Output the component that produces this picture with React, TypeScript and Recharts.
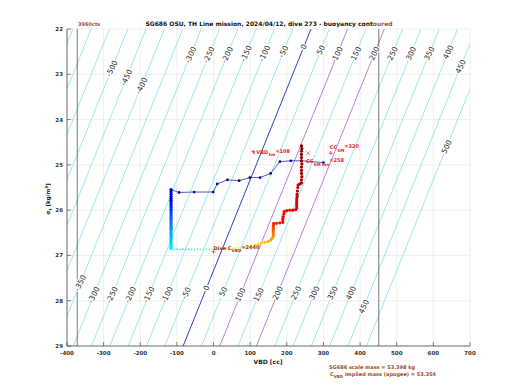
import React from 'react';
import { ComposedChart, XAxis, YAxis, CartesianGrid, ReferenceLine, Scatter, Line } from 'recharts';

const vbdTicks = [-400, -300, -200, -100, 0, 100, 200, 300, 400, 500, 600, 700];
const sigmaTicks = [22, 23, 24, 25, 26, 27, 28, 29];

// zero buoyancy contour, read at the top and bottom of the plot
const zeroContourTop = { sigma: 22, vbd: 266 };
const zeroContourBottom = { sigma: 29, vbd: -83 };
const cyanLevels = [-650, -600, -550, -500, -450, -400, -350, -300, -250, -200, -150, -100, -50, 50, 150, 250, 300, 350, 400, 450, 500];
const blueLevels = [0];
const purpleLevels = [100, 200];
const vbdLimits = [-372, 451];

const labelLevels = [-500, -450, -400, -300, -250, -200, -150, -100, -50, 0, 50, 100, 150, 200, 250, 300, 350, 400, 450, 500,
  -350, -300, -250, -200, -150, -100, -50, 0, 50, 100, 150, 200, 250, 300, 350, 400, 450];
const labelSigmas = [22.87, 23.07, 23.25, 22.57, 22.57, 22.57, 22.54, 22.54, 22.5, 22.39, 22.46, 22.54, 22.54, 22.54, 22.54, 22.54, 22.54, 22.51, 22.83, 24.6,
  27.61, 27.87, 27.87, 27.87, 27.87, 27.87, 27.83, 27.72, 27.8, 27.87, 27.87, 27.83, 27.83, 27.83, 27.83, 27.83, 28.13];

// dive data [VBD cc, sigma_t]
const descent = [
  [-116, 25.55], [-116, 25.6], [-116, 25.65], [-116, 25.7], [-116, 25.74], [-116, 25.78], [-116, 25.82], [-116, 25.86],
  [-116, 25.9], [-116, 25.94], [-116, 25.98], [-116, 26.02], [-116, 26.06], [-116, 26.1], [-116, 26.14], [-116, 26.18],
  [-116, 26.22], [-116, 26.26], [-116, 26.3], [-116, 26.34], [-116, 26.38], [-116, 26.42], [-116, 26.46], [-116, 26.5],
  [-116, 26.54], [-116, 26.58], [-116, 26.62], [-116, 26.66], [-116, 26.7], [-116, 26.74], [-116, 26.78], [-116, 26.82], [-116, 26.85],
];
const apogee = [
  [-108, 26.87], [-100, 26.86], [-92, 26.87], [-84, 26.86], [-76, 26.87], [-68, 26.86], [-60, 26.87], [-52, 26.87],
  [-44, 26.86], [-36, 26.87], [-28, 26.87], [-20, 26.86], [-12, 26.87], [-4, 26.87], [4, 26.86], [12, 26.87], [20, 26.86],
  [28, 26.86], [36, 26.85], [44, 26.85], [52, 26.84], [60, 26.84], [68, 26.83], [76, 26.83], [84, 26.82], [92, 26.81],
];
const climbLower = [
  [100, 26.8], [113, 26.77], [122, 26.75], [131, 26.72], [140, 26.71], [149, 26.69], [156, 26.66], [160, 26.62],
  [163, 26.57], [163, 26.52], [163, 26.47], [163, 26.42], [163, 26.38], [164, 26.33], [164, 26.29],
];
const climbUpper = [
  [172, 26.29], [181, 26.28], [189, 26.27], [189, 26.22], [189, 26.18], [190, 26.14], [192, 26.08], [193, 26.03],
  [200, 26.01], [208, 26.0], [216, 26.0], [224, 25.99], [227, 25.95], [227, 25.9], [227, 25.85], [227, 25.8],
  [227, 25.75], [228, 25.7], [228, 25.65], [229, 25.58], [230, 25.5], [231, 25.44], [236, 25.42], [240, 25.4],
  [240, 25.33], [241, 25.26], [240, 25.19], [240, 25.12], [240, 25.05], [241, 24.98], [240, 24.91], [240, 24.84],
  [240, 24.77], [240, 24.7], [241, 24.64], [240, 24.58],
];
const apogeeTrace = [
  [-116, 25.55], [-94, 25.61], [-53, 25.6], [-1, 25.6], [10, 25.42], [38, 25.33], [70, 25.35], [99, 25.28],
  [127, 25.28], [156, 25.19], [181, 24.93], [211, 24.91], [240, 24.91], [300, 24.95],
];

const plusMarks = [[108, 24.71], [320, 24.74], [0, 26.92]];
const crossMarks = [[258, 24.74]];
const annotations = [
  { x: 108, y: 24.71, main: '\u2193VBD', sub: '1m', tail: '=108' },
  { x: 320, y: 24.74, main: 'CC', sub: 'SM', tail: '=320' },
  { x: 258, y: 24.74, main: 'CC', sub: 'SM mn', tail: '=258' },
  { x: 0, y: 26.92, main: 'Dive C', sub: 'VBD', tail: '=2440' },
];
const annotationStyle = [
  { dx: -1, dy: 2, color: '#e8202a' },
  { dx: -1, dy: -4, color: '#e8202a' },
  { dx: -2, dy: 10, color: '#e8202a' },
  { dx: 0, dy: -2, color: '#a0301e' },
];

const FONT = 'DejaVu Sans';

const contourSegment = (level: number) => [
  { x: zeroContourBottom.vbd + level, y: zeroContourBottom.sigma },
  { x: zeroContourTop.vbd + level, y: zeroContourTop.sigma },
];
const contourVbdAt = (level: number, sigma: number) =>
  zeroContourBottom.vbd + level +
  ((zeroContourTop.vbd - zeroContourBottom.vbd) * (zeroContourBottom.sigma - sigma)) / (zeroContourBottom.sigma - zeroContourTop.sigma);

const labelData = labelLevels.map((lv, i) => ({ x: contourVbdAt(lv, labelSigmas[i]), y: labelSigmas[i], label: String(lv) }));

const segments = [descent, apogee, climbLower, climbUpper];
const diveData = segments.flat().map(([x, y], i) => ({ x, y, i }));
const bounds: number[] = [0];
segments.forEach((s) => bounds.push(bounds[bounds.length - 1] + s.length));
bounds[bounds.length - 1] -= 1;
const tStops = [0.08, 0.37, 0.62, 0.86, 1.0];

const clamp = (v: number) => Math.max(0, Math.min(1, v));
const jet = (t: number) => {
  const r = clamp(1.5 - Math.abs(4 * t - 3));
  const g = clamp(1.5 - Math.abs(4 * t - 2));
  const b = clamp(1.5 - Math.abs(4 * t - 1));
  return `rgb(${Math.round(r * 255)},${Math.round(g * 255)},${Math.round(b * 255)})`;
};
const tForIndex = (i: number) => {
  for (let k = 0; k < bounds.length - 1; k++) {
    if (i <= bounds[k + 1]) {
      const f = (i - bounds[k]) / Math.max(1, bounds[k + 1] - bounds[k]);
      return tStops[k] + f * (tStops[k + 1] - tStops[k]);
    }
  }
  return 1;
};

const traceData = apogeeTrace.map(([x, y]) => ({ x, y }));
const plusData = plusMarks.map(([x, y]) => ({ x, y }));
const crossData = crossMarks.map(([x, y]) => ({ x, y }));
const annotationData = annotations.map((a, i) => ({ ...a, i }));

const DiveDot = (p: any) => {
  const isApogee = p.payload.i >= bounds[1] && p.payload.i < bounds[2];
  return <circle cx={p.cx} cy={p.cy} r={isApogee ? 0.9 : 1.6} fill={jet(tForIndex(p.payload.i))} />;
};

const ContourLabel = (p: any) => (
  <text
    x={p.cx} y={p.cy} transform={`rotate(-64 ${p.cx} ${p.cy})`} textAnchor="middle" dominantBaseline="central"
    fontSize={7.5} fontFamily={FONT} fill="#2a2a2a" stroke="#fff" strokeWidth={2.4} paintOrder="stroke"
  >
    {p.payload.label}
  </text>
);

const PlusMark = (p: any) => (
  <g stroke="#e8202a" strokeWidth={0.7}>
    <line x1={p.cx - 2} x2={p.cx + 2} y1={p.cy} y2={p.cy} />
    <line x1={p.cx} x2={p.cx} y1={p.cy - 2} y2={p.cy + 2} />
  </g>
);
const CrossMark = (p: any) => (
  <g stroke="#e8202a" strokeWidth={0.6}>
    <line x1={p.cx - 1.8} x2={p.cx + 1.8} y1={p.cy - 1.8} y2={p.cy + 1.8} />
    <line x1={p.cx - 1.8} x2={p.cx + 1.8} y1={p.cy + 1.8} y2={p.cy - 1.8} />
  </g>
);
const AnnotationText = (p: any) => {
  const s = annotationStyle[p.payload.i];
  return (
    <text x={p.cx + s.dx} y={p.cy + s.dy} fontSize={5} fontWeight="bold" fontFamily={FONT} fill={s.color}>
      <tspan>{p.payload.main}</tspan>
      <tspan dy={2.6} fontSize={4.2}>{p.payload.sub}</tspan>
      <tspan dy={-3.4}>{p.payload.tail}</tspan>
    </text>
  );
};

const tickText = { fontSize: 5.5, fontFamily: FONT, fontWeight: 'bold' as const, fill: '#333' };
const BottomTick = (p: any) => (
  <g>
    <line x1={p.x} x2={p.x} y1={p.y} y2={p.y - 4} stroke="#333" strokeWidth={0.6} />
    <text x={p.x} y={p.y + 9} textAnchor="middle" {...tickText}>{p.payload.value}</text>
  </g>
);
const TopTick = (p: any) => <line x1={p.x} x2={p.x} y1={p.y} y2={p.y + 4} stroke="#333" strokeWidth={0.6} />;
const LeftTick = (p: any) => (
  <g>
    <line x1={p.x} x2={p.x + 4} y1={p.y} y2={p.y} stroke="#333" strokeWidth={0.6} />
    <text x={p.x - 4} y={p.y + 2} textAnchor="end" {...tickText}>{p.payload.value}</text>
  </g>
);
const RightTick = (p: any) => <line x1={p.x} x2={p.x - 4} y1={p.y} y2={p.y} stroke="#333" strokeWidth={0.6} />;

export default function App() {
  return (
    <div style={{ position: 'absolute', left: 0, top: 0, width: 520, height: 390, background: '#fff' }}>
      <ComposedChart width={520} height={390} margin={{ top: 29, right: 50, bottom: 14, left: 27 }}>
        <CartesianGrid stroke="#e6e6e6" strokeWidth={0.6} />
        <XAxis
          type="number" dataKey="x" domain={[-400, 700]} ticks={vbdTicks} allowDataOverflow interval={0}
          height={30} tickSize={0} tickMargin={0} tickLine={false} tick={<BottomTick />} axisLine={{ stroke: '#333', strokeWidth: 0.7 }}
        />
        <XAxis
          xAxisId="top" orientation="top" type="number" domain={[-400, 700]} ticks={vbdTicks} interval={0}
          height={0} tickSize={0} tickMargin={0} tickLine={false} tick={<TopTick />} axisLine={{ stroke: '#333', strokeWidth: 0.7 }}
        />
        <YAxis
          type="number" dataKey="y" domain={[22, 29]} reversed ticks={sigmaTicks} allowDataOverflow interval={0}
          width={40} tickSize={0} tickMargin={0} tickLine={false} tick={<LeftTick />} axisLine={{ stroke: '#333', strokeWidth: 0.7 }}
        />
        <YAxis
          yAxisId="right" orientation="right" type="number" domain={[22, 29]} reversed ticks={sigmaTicks} interval={0}
          width={0} tickSize={0} tickMargin={0} tickLine={false} tick={<RightTick />} axisLine={{ stroke: '#333', strokeWidth: 0.7 }}
        />
        {cyanLevels.map((lv) => (
          <ReferenceLine key={`c${lv}`} segment={contourSegment(lv)} ifOverflow="hidden" stroke="#62e4e6" strokeWidth={0.7} />
        ))}
        {purpleLevels.map((lv) => (
          <ReferenceLine key={`p${lv}`} segment={contourSegment(lv)} ifOverflow="hidden" stroke="#9d48d0" strokeWidth={0.7} />
        ))}
        {blueLevels.map((lv) => (
          <ReferenceLine key={`b${lv}`} segment={contourSegment(lv)} ifOverflow="hidden" stroke="#1428c8" strokeWidth={0.9} />
        ))}
        {vbdLimits.map((v) => (
          <ReferenceLine key={`v${v}`} x={v} stroke="#555" strokeWidth={0.8} />
        ))}
        <Scatter data={labelData} shape={<ContourLabel />} isAnimationActive={false} />
        <Line
          data={traceData} dataKey="y" stroke="#12128a" strokeWidth={0.7} isAnimationActive={false}
          dot={{ r: 1.4, fill: '#0a0a96', stroke: 'none' }}
        />
        <Scatter data={diveData} shape={<DiveDot />} isAnimationActive={false} />
        <Scatter data={plusData} shape={<PlusMark />} isAnimationActive={false} />
        <Scatter data={crossData} shape={<CrossMark />} isAnimationActive={false} />
        <Scatter data={annotationData} shape={<AnnotationText />} isAnimationActive={false} />
      </ComposedChart>
      <svg width={520} height={390} style={{ position: 'absolute', left: 0, top: 0, pointerEvents: 'none' }} fontFamily={FONT}>
        <text x={78} y={26} fontSize={5} fontWeight="bold" fill="#a0522d">3960cts</text>
        <text x={269} y={26} textAnchor="middle" fontSize={6} fontWeight="bold" fill="#111">
          <tspan>SG686 OSU, TH Line mission, 2024/04/12, dive 273 - buoyancy cont</tspan>
          <tspan fill="#a0522d">oured</tspan>
        </text>
        <text x={268} y={364} textAnchor="middle" fontSize={6} fontWeight="bold" fill="#222">VBD [cc]</text>
        <text transform="translate(50 199) rotate(-90)" textAnchor="middle" fontSize={5.5} fontWeight="bold" fill="#222">
          <tspan>σ</tspan><tspan dy={1.8} fontSize={4.2}>t</tspan><tspan dy={-1.8}> [kg/m</tspan>
          <tspan dy={-2} fontSize={4.2}>3</tspan><tspan dy={2}>]</tspan>
        </text>
        <text x={329} y={369} fontSize={5} fontWeight="bold" fill="#9c4a1a">SG686 scale mass = 53.398 kg</text>
        <text x={330} y={376} fontSize={5} fontWeight="bold" fill="#9c4a1a">
          <tspan>C</tspan><tspan dy={2} fontSize={4}>VBD</tspan><tspan dy={-2}> implied mass (apogee) = 53.354</tspan>
        </text>
      </svg>
    </div>
  );
}
